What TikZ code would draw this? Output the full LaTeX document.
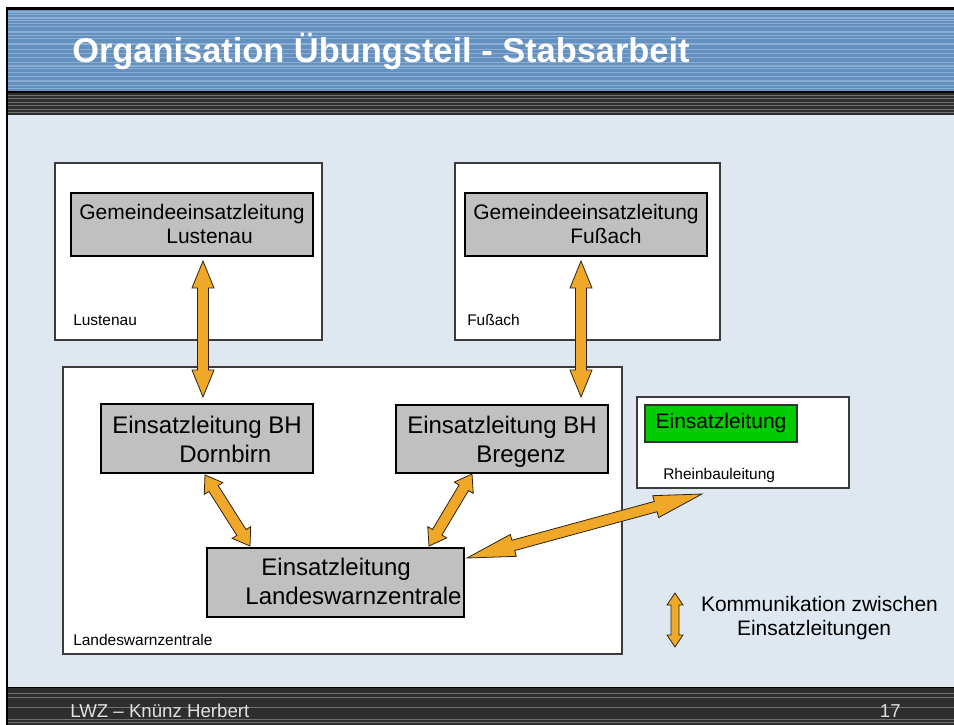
\documentclass[tikz,border=0pt]{standalone}
\usepackage{fontspec}
\setmainfont{Liberation Sans}
\usetikzlibrary{calc,fit}
\definecolor{slidebg}{RGB}{223,232,241}
\definecolor{hblue}{RGB}{99,144,191}
\definecolor{hstripe}{RGB}{140,174,210}
\definecolor{dband}{RGB}{46,46,46}
\definecolor{dstripe}{RGB}{112,112,112}
\definecolor{boxgray}{RGB}{192,192,192}
\definecolor{boxline}{RGB}{60,60,60}
\definecolor{arroworange}{RGB}{240,168,40}
\definecolor{arrowline}{RGB}{45,35,15}
\definecolor{elgreen}{RGB}{0,204,0}
\newcommand{\twolines}[5][0pt]{\raisebox{-#1}[\height][\depth]{\begin{tabular}{@{}l@{}}\hspace*{#2}#3\\\hspace*{#4}#5\end{tabular}}}
\tikzset{
  ahl/.store in=\ahl, ahh/.store in=\ahh, ash/.store in=\ash,
  ahl=20pt, ahh=8pt, ash=4pt,
  blockarrow/.style={draw=arrowline, fill=arroworange, line width=0.6pt, line join=miter,
    to path={
      -- ($(\tikztostart)!\ahl!(\tikztotarget)!\ahh!90:(\tikztotarget)$)
      -- ($(\tikztostart)!\ahl!(\tikztotarget)!\ash!90:(\tikztotarget)$)
      -- ($(\tikztotarget)!\ahl!(\tikztostart)!\ash!-90:(\tikztostart)$)
      -- ($(\tikztotarget)!\ahl!(\tikztostart)!\ahh!-90:(\tikztostart)$)
      -- (\tikztotarget)
      -- ($(\tikztotarget)!\ahl!(\tikztostart)!\ahh!90:(\tikztostart)$)
      -- ($(\tikztotarget)!\ahl!(\tikztostart)!\ash!90:(\tikztostart)$)
      -- ($(\tikztostart)!\ahl!(\tikztotarget)!\ash!-90:(\tikztotarget)$)
      -- ($(\tikztostart)!\ahl!(\tikztotarget)!\ahh!-90:(\tikztotarget)$)
      -- cycle}},
  outerbox/.style={draw=boxline, fill=white, line width=0.8pt, inner sep=0pt},
  graybox/.style={draw=black, fill=boxgray, line width=1pt, inner sep=0pt},
  greenbox/.style={draw=black!80, fill=elgreen, line width=0.8pt, inner sep=0pt},
  smalllbl/.style={inner sep=0pt, font=\fontsize{11.6}{13.9}\selectfont},
  gemtext/.style={font=\fontsize{15.75}{18}\selectfont},
  eltext/.style={font=\fontsize{18}{21.75}\selectfont},
}
\begin{document}
\begin{tikzpicture}[x=0.75pt,y=-0.75pt]
\useasboundingbox (0,0) rectangle (954,725);
\fill[white] (0,0) rectangle (954,725);
% slide background
\fill[slidebg] (6,9) rectangle (954,687);
% header band
\fill[hblue] (6,9) rectangle (954,92);
\foreach \y/\h in {11/1.5,14/1.2,17/1.5,20/1,22.5/1.5,25.5/1,31/1.5,34.5/1.2,37.5/1,43/1.5,49/1.2,52.5/1,56.5/1.5,61.5/1,65/1.5,68/1,71.5/1.5,76/1.2,80/1.5,85/1.2,87.5/1}
  \fill[hstripe] (8,\y) rectangle (954,\y+\h);
% dark band
\fill[dband] (6,92) rectangle (954,115);
\foreach \y in {95,98,101.5,105,108.5,112}
  \fill[dstripe] (8,\y) rectangle (954,\y+1.2);
\fill[black] (6,91) rectangle (954,92.5);
% footer band
\fill[dband] (6,687) rectangle (954,725);
\fill[black] (6,686.5) rectangle (954,688);
\foreach \y in {693,697,707,718.5,722}
  \fill[dstripe] (8,\y) rectangle (954,\y+1.2);
% slide border
\fill[black] (6,7) rectangle (954,9.5);
\fill[black] (5.5,7) rectangle (8,725);
% title and footer texts
\node[anchor=base west, inner sep=0pt, text=white, font=\fontsize{25.8}{30}\selectfont\bfseries] (title) at (72,62) {Organisation Übungsteil - Stabsarbeit};
\node[anchor=base west, inner sep=0pt, text=white!88!black, font=\fontsize{14}{16}\selectfont] (foot) at (70,717) {LWZ – Knünz Herbert};
\node[anchor=base east, inner sep=0pt, text=white!88!black, font=\fontsize{14}{16}\selectfont] (pageno) at (901,717) {17};
% outer boxes
\node[outerbox, fit={(55,163) (322,340)}] (lubox) {};
\node[outerbox, fit={(455,163) (720,340)}] (fubox) {};
\node[outerbox, fit={(63,367) (622,654)}] (lwzbox) {};
\node[outerbox, fit={(637,397) (849,488)}] (rhbox) {};
\node[smalllbl, anchor=base west] (lulbl) at (73,325) {Lustenau};
\node[smalllbl, anchor=base west] (fulbl) at (467,325) {Fußach};
\node[smalllbl, anchor=base west] (lwzlbl) at (73,645) {Landeswarnzentrale};
\node[smalllbl, anchor=base west] (rhlbl) at (663,479) {Rheinbauleitung};
% gray boxes
\node[graybox, gemtext, minimum width=181.5pt, minimum height=47.25pt] (gelu) at (192,224.5)
  {\twolines[1.3pt]{0pt}{Gemeindeeinsatzleitung}{65.25pt}{Lustenau}};
\node[graybox, gemtext, minimum width=181.5pt, minimum height=47.25pt] (gefu) at (586,224.5)
  {\twolines[1.3pt]{0pt}{Gemeindeeinsatzleitung}{72.75pt}{Fußach}};
\node[graybox, eltext, minimum width=159pt, minimum height=51.75pt] (eldo) at (207,438.5)
  {\twolines[2.4pt]{0pt}{Einsatzleitung BH}{50.25pt}{Dornbirn}};
\node[graybox, eltext, minimum width=159pt, minimum height=51pt] (elbr) at (502,439)
  {\twolines[2.4pt]{0pt}{Einsatzleitung BH}{51.75pt}{Bregenz}};
\node[graybox, eltext, minimum width=192.75pt, minimum height=51.75pt] (ellwz) at (335.5,582.5)
  {\twolines[0.9pt]{39pt}{Einsatzleitung}{27pt}{Landeswarnzentrale}};
\node[greenbox, gemtext, minimum width=114pt, minimum height=27.75pt] (elrh) at (721,423.5) {Einsatzleitung};
% arrow end points
\coordinate (lua) at (203,261);
\coordinate (lub) at (203,397);
\coordinate (fua) at (581,261);
\coordinate (fub) at (581,397);
\coordinate (doa) at (205,475);
\coordinate (dob) at (250,546);
\coordinate (bra) at (472,474);
\coordinate (brb) at (429,546);
\coordinate (rha) at (702,494);
\coordinate (rhb) at (467,558);
\coordinate (lga) at (675,593);
\coordinate (lgb) at (675,647);
% communication arrows
\draw[blockarrow, ahl=20.25pt, ahh=8.25pt, ash=4.1pt] (lua) to (lub);
\draw[blockarrow, ahl=20.25pt, ahh=8.25pt, ash=4.1pt] (fua) to (fub);
\draw[blockarrow, ahl=12pt, ahh=8.25pt, ash=4.1pt] (doa) to (dob);
\draw[blockarrow, ahl=12pt, ahh=8.25pt, ash=4.1pt] (bra) to (brb);
\draw[blockarrow, ahl=36pt, ahh=8.5pt, ash=4pt] (rha) to (rhb);
% legend
\draw[blockarrow, ahl=9pt, ahh=6pt, ash=3pt] (lga) to (lgb);
\node[inner sep=0pt, gemtext] (legend) at (819.5,618) {\twolines[0.8pt]{0pt}{Kommunikation zwischen}{27pt}{Einsatzleitungen}};
\end{tikzpicture}
\end{document}
